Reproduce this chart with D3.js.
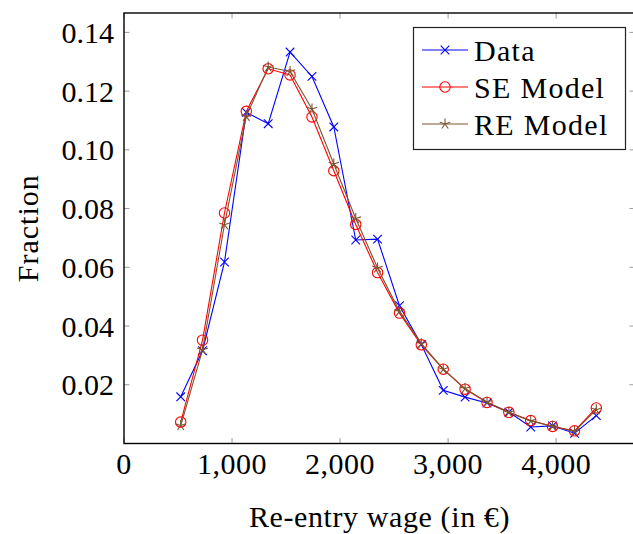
<!DOCTYPE html>
<html>
<head>
<meta charset="utf-8">
<script src="https://cdn.jsdelivr.net/npm/d3@7"></script>
<style>
  body { margin: 0; background: #fff; }
  text { font-family: "Liberation Serif", "Times New Roman", serif; fill: #000; }
</style>
</head>
<body>
<svg id="chart"></svg>
<script>
// wage bin midpoints (euro)
var wages = [525, 727, 930, 1132, 1335, 1537, 1740, 1942, 2145, 2347,
             2550, 2752, 2955, 3157, 3360, 3562, 3765, 3967, 4170, 4372];
var dataFrac = [0.0159, 0.0316, 0.0618, 0.1128, 0.1089, 0.1333, 0.1250, 0.1078, 0.0693, 0.0696,
                0.0469, 0.0337, 0.0181, 0.0158, 0.0138, 0.0107, 0.0056, 0.0060, 0.0035, 0.0095];
var seFrac = [0.0073, 0.0352, 0.0785, 0.1131, 0.1276, 0.1255, 0.1112, 0.0929, 0.0746, 0.0582,
              0.0444, 0.0336, 0.0253, 0.0185, 0.0140, 0.0106, 0.0078, 0.0058, 0.0043, 0.0121];
var reFrac = [0.0061, 0.0319, 0.0745, 0.1114, 0.1282, 0.1267, 0.1139, 0.0952, 0.0766, 0.0598,
              0.0450, 0.0340, 0.0253, 0.0187, 0.0141, 0.0106, 0.0077, 0.0059, 0.0041, 0.0115];
var xTicks = [0, 1000, 2000, 3000, 4000];
var yTicks = [0.02, 0.04, 0.06, 0.08, 0.10, 0.12, 0.14];
var seriesNames = ["Data", "SE Model", "RE Model"];

var width = 633;
var height = 534;
var margin = {top: 13, bottom: 90.5, left: 124, right: -2};

var svg = d3.select('#chart')
    .attr('width', width)
    .attr('height', height);

var xScale = d3.scaleLinear()
    .domain([0, 4730])
    .range([margin.left, width - margin.right]);

var yScale = d3.scaleLinear()
    .domain([0, 0.1466])
    .range([height - margin.bottom, margin.top]);

var x0 = xScale.range()[0], x1 = xScale.range()[1];
var y0 = yScale.range()[0], y1 = yScale.range()[1];

// marker paths
function crossPath(s) {
    return "M" + (-s) + "," + (-s) + "L" + s + "," + s + "M" + (-s) + "," + s + "L" + s + "," + (-s);
}
function starPath(s) {
    var p = "";
    for (var k = 0; k < 5; k++) {
        var a = -Math.PI / 2 + k * 2 * Math.PI / 5;
        p += "M0,0L" + (s * Math.cos(a)).toFixed(2) + "," + (s * Math.sin(a)).toFixed(2);
    }
    return p;
}

var series = [
    {name: seriesNames[0], values: dataFrac, color: "#0000ff", mark: "cross"},
    {name: seriesNames[1], values: seFrac, color: "#ff0000", mark: "circle"},
    {name: seriesNames[2], values: reFrac, color: "#7a5530", mark: "star"}
];

function drawMark(g, mark, color) {
    if (mark === "circle") {
        g.append("circle").attr("r", 5.2).attr("fill", "none")
            .attr("stroke", color).attr("stroke-width", 1.1);
    } else if (mark === "cross") {
        g.append("path").attr("d", crossPath(4.3)).attr("fill", "none")
            .attr("stroke", color).attr("stroke-width", 1.1);
    } else {
        g.append("path").attr("d", starPath(5.5)).attr("fill", "none")
            .attr("stroke", color).attr("stroke-width", 1.1);
    }
}

// ticks (inside, grey)
var ticks = svg.append("g").attr("stroke", "#9a9a9a").attr("stroke-width", 1);
xTicks.forEach(function (t) {
    ticks.append("line").attr("x1", xScale(t)).attr("x2", xScale(t))
        .attr("y1", y0).attr("y2", y0 - 5.5);
    ticks.append("line").attr("x1", xScale(t)).attr("x2", xScale(t))
        .attr("y1", y1).attr("y2", y1 + 5.5);
});
yTicks.forEach(function (t) {
    ticks.append("line").attr("x1", x0).attr("x2", x0 + 5.5)
        .attr("y1", yScale(t)).attr("y2", yScale(t));
    ticks.append("line").attr("x1", x1).attr("x2", x1 - 5.5)
        .attr("y1", yScale(t)).attr("y2", yScale(t));
});

// series
var line = d3.line()
    .x(function (d) { return xScale(d[0]); })
    .y(function (d) { return yScale(d[1]); });

series.forEach(function (s) {
    var pts = wages.map(function (w, i) { return [w, s.values[i]]; });
    svg.append("path")
        .datum(pts)
        .attr("d", line)
        .attr("fill", "none")
        .attr("stroke", s.color)
        .attr("stroke-width", 1.1);
    pts.forEach(function (p) {
        var g = svg.append("g")
            .attr("transform", "translate(" + xScale(p[0]) + "," + yScale(p[1]) + ")");
        drawMark(g, s.mark, s.color);
    });
});

// frame
svg.append("rect")
    .attr("x", x0).attr("y", y1)
    .attr("width", x1 - x0).attr("height", y0 - y1)
    .attr("fill", "none").attr("stroke", "#000").attr("stroke-width", 1.4);

// tick labels
var fmtX = d3.format(",");
svg.selectAll(".xlab")
    .data(xTicks)
    .enter().append("text")
    .attr("class", "xlab")
    .attr("x", function (d) { return xScale(d); })
    .attr("y", y0 + 30)
    .attr("text-anchor", "middle")
    .style("font-size", "30px")
    .style("letter-spacing", "0.5px")
    .text(function (d) { return fmtX(d); });

svg.selectAll(".ylab")
    .data(yTicks)
    .enter().append("text")
    .attr("class", "ylab")
    .attr("x", x0 - 10)
    .attr("y", function (d) { return yScale(d); })
    .attr("dy", "0.35em")
    .attr("text-anchor", "end")
    .style("font-size", "30px")
    .text(function (d) { return d.toFixed(2); });

// axis titles
svg.append("text")
    .attr("x", (x0 + x1) / 2)
    .attr("y", 527)
    .attr("text-anchor", "middle")
    .style("font-size", "30px")
    .style("letter-spacing", "0.6px")
    .text("Re-entry wage (in €)");

svg.append("text")
    .attr("transform", "translate(38," + ((y0 + y1) / 2) + ")rotate(-90)")
    .attr("text-anchor", "middle")
    .style("font-size", "30px")
    .style("letter-spacing", "1px")
    .text("Fraction");

// legend
var legend = svg.append("g");
legend.append("rect")
    .attr("x", 413.5).attr("y", 27.5)
    .attr("width", 212).attr("height", 122)
    .attr("fill", "#fff").attr("stroke", "#222").attr("stroke-width", 1.2);

series.forEach(function (s, i) {
    var cy = 50 + i * 37;
    legend.append("line")
        .attr("x1", 422).attr("x2", 468)
        .attr("y1", cy).attr("y2", cy)
        .attr("stroke", s.color).attr("stroke-width", 1.1);
    var g = legend.append("g").attr("transform", "translate(445," + cy + ")");
    drawMark(g, s.mark, s.color);
    legend.append("text")
        .attr("x", 474)
        .attr("y", cy)
        .attr("dy", "0.35em")
        .style("font-size", "30px")
        .style("letter-spacing", "1.3px")
        .text(s.name);
});
</script>
</body>
</html>
